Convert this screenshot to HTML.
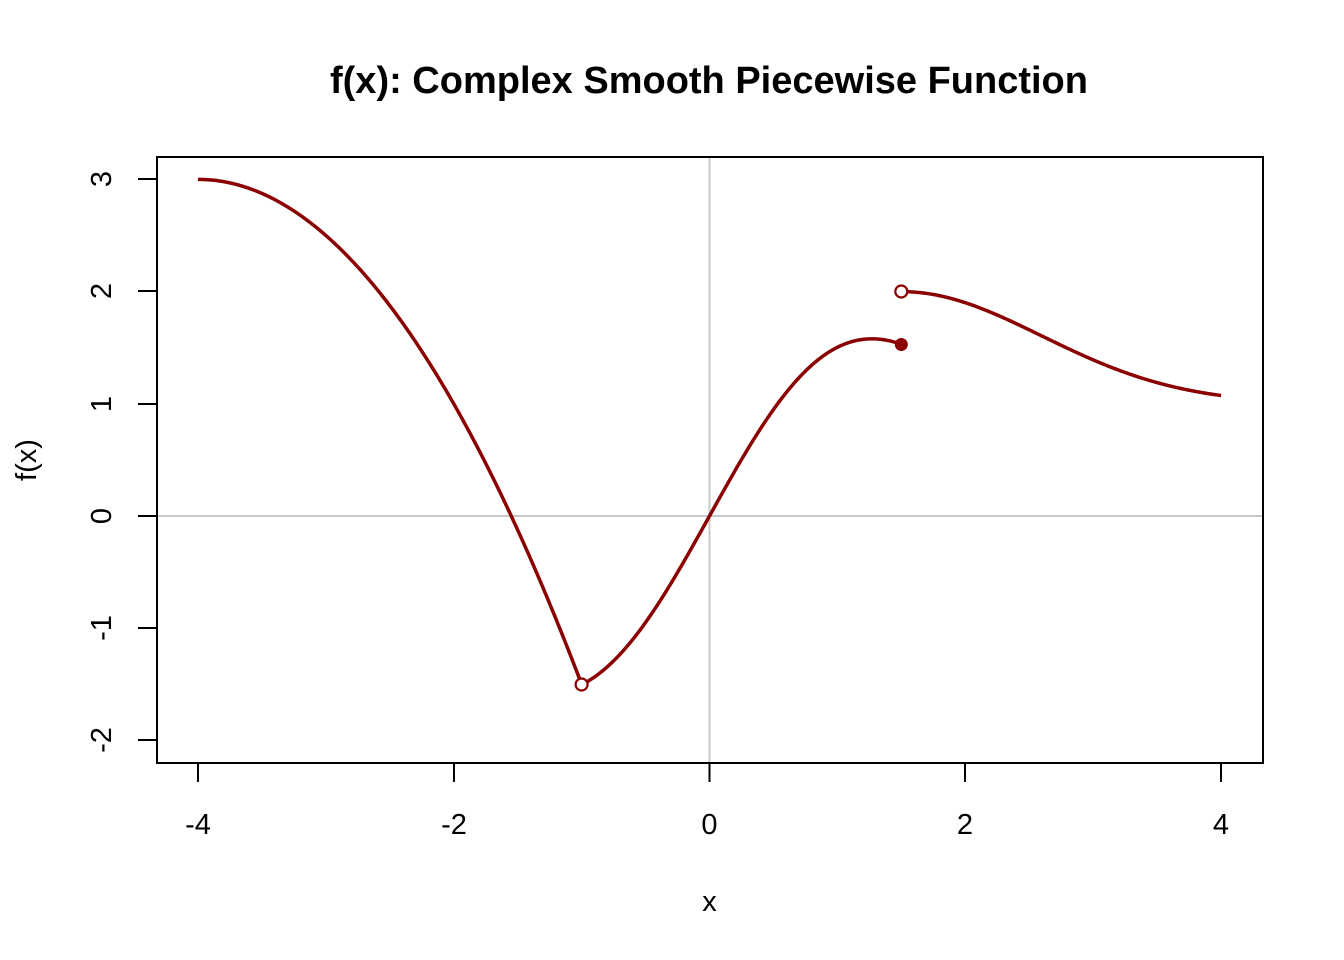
<!DOCTYPE html>
<html><head><meta charset="utf-8"><style>body{margin:0;background:#fff}svg{display:block}</style></head>
<body>
<svg id="s" width="1344" height="960" xmlns="http://www.w3.org/2000/svg" font-family="Liberation Sans, Arial, sans-serif">
<rect width="1344" height="960" fill="#fff"/>
<text x="709" y="93" text-anchor="middle" font-size="38" font-weight="bold">f(x): Complex Smooth Piecewise Function</text>
<line x1="709.5" y1="157" x2="709.5" y2="763" stroke="#c8c8c8" stroke-width="2"/>
<line x1="157" y1="516" x2="1263" y2="516" stroke="#c8c8c8" stroke-width="2"/>
<g id="curves" fill="none" stroke="#8b0000" stroke-width="3.5" stroke-linejoin="round"></g>
<rect x="157" y="157" width="1106" height="606" fill="none" stroke="#000" stroke-width="2"/>
<g stroke="#000" stroke-width="2">
<line x1="198" y1="763" x2="1221" y2="763"/>
<line x1="198" y1="763" x2="198" y2="782"/><line x1="454" y1="763" x2="454" y2="782"/>
<line x1="709.5" y1="763" x2="709.5" y2="782"/><line x1="965" y1="763" x2="965" y2="782"/>
<line x1="1221" y1="763" x2="1221" y2="782"/>
<line x1="157" y1="179" x2="157" y2="740"/>
<line x1="157" y1="179" x2="138" y2="179"/><line x1="157" y1="291" x2="138" y2="291"/>
<line x1="157" y1="404" x2="138" y2="404"/><line x1="157" y1="516" x2="138" y2="516"/>
<line x1="157" y1="628" x2="138" y2="628"/><line x1="157" y1="740" x2="138" y2="740"/>
</g>
<g font-size="29" text-anchor="middle">
<text x="198" y="834">-4</text><text x="454" y="834">-2</text><text x="709.5" y="834">0</text>
<text x="965" y="834">2</text><text x="1221" y="834">4</text>
<text x="709.5" y="911">x</text>
<text transform="translate(111,179) rotate(-90)">3</text>
<text transform="translate(111,291) rotate(-90)">2</text>
<text transform="translate(111,404) rotate(-90)">1</text>
<text transform="translate(111,516) rotate(-90)">0</text>
<text transform="translate(111,628) rotate(-90)">-1</text>
<text transform="translate(111,740) rotate(-90)">-2</text>
<text transform="translate(36,460) rotate(-90)">f(x)</text>
</g>
<circle cx="581.6" cy="684.5" r="6" fill="#fff" stroke="#8b0000" stroke-width="2.2"/>
<circle cx="901.3" cy="291.5" r="6" fill="#fff" stroke="#8b0000" stroke-width="2.2"/>
<circle cx="901.3" cy="344.5" r="6.5" fill="#8b0000"/>
</svg>
<script>
(function(){
var X=function(x){return 709.5+x*127.875},Y=function(y){return 516-y*112.2};
function seg(a,b,f){var d="";for(var i=0;i<=200;i++){var x=a+(b-a)*i/200;d+=(i?"L":"M")+X(x).toFixed(2)+","+Y(f(x)).toFixed(2);}return d;}
var g=document.getElementById("curves");
var ds=[seg(-4,-1,function(x){return 3-0.5*(x+4)*(x+4)}),
seg(-1,1.5,function(x){return 2.05*x*Math.exp(-0.31*x*x)}),
seg(1.5,4,function(x){return 1+Math.exp(-(x-1.5)*(x-1.5)/2.4)})];
ds.forEach(function(d){var p=document.createElementNS("http://www.w3.org/2000/svg","path");p.setAttribute("d",d);g.appendChild(p);});
})();
</script>
</body></html>
